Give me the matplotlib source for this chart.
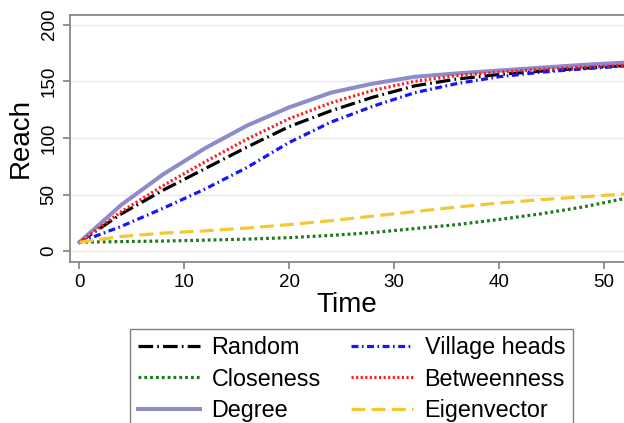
import matplotlib
matplotlib.use("Agg")
import matplotlib.pyplot as plt

plt.rcParams['font.family'] = ['Liberation Sans', 'DejaVu Sans']
plt.rcParams['lines.scale_dashes'] = False

# ===== Data: reach over time for each seeding strategy =====
time = [0, 4, 8, 12, 16, 20, 24, 28, 32, 36, 40, 44, 48, 52]
random_reach = [8, 33, 54, 73, 92, 110, 124, 136, 146, 152, 156, 159, 161.5, 164]
village_heads = [8, 22, 38, 55, 74, 96, 114, 128, 140, 148, 154, 158, 161, 163.5]
closeness = [8, 8.5, 9, 9.8, 10.7, 12, 14, 16.5, 20, 23.5, 28, 33, 39, 46.5]
betweenness = [8, 35, 58, 79, 99, 117, 131, 142, 150, 155, 158, 160.5, 162.5, 164]
degree = [8, 41, 68, 91, 111, 127, 140, 148, 154, 157, 159.5, 162, 164.5, 166.5]
eigenvector = [8, 13, 16, 18, 20.5, 23.5, 27, 31, 35, 39, 42.5, 45.5, 48, 50.5]

fig = plt.figure(figsize=(6.24, 4.23), dpi=100)
ax = fig.add_axes([69.5 / 624, 1 - 262 / 423, 1 - 69.5 / 624, (262 - 14.7) / 423])

lw = 2.3
ax.plot(time, random_reach, color='black', lw=lw, dashes=(10.5, 3, 1.2, 3), label='Random')
ax.plot(time, closeness, color='#1a7a1a', lw=lw, dashes=(2, 2.2), label='Closeness')
ax.plot(time, degree, color='#8c8cca', lw=2.9, label='Degree')
ax.plot(time, village_heads, color='#1515ff', lw=lw, dashes=(5, 2.5, 1.2, 2.5), label='Village heads')
ax.plot(time, betweenness, color='#ff1a1a', lw=lw, dashes=(1.5, 1.8), label='Betweenness')
ax.plot(time, eigenvector, color='#f5c832', lw=lw, dashes=(10, 4.5), label='Eigenvector')

ax.set_xlim(-0.95, 51.95)
ax.set_ylim(-9.5, 208.8)
ax.set_xticks([0, 10, 20, 30, 40, 50])
ax.set_yticks([0, 50, 100, 150, 200])
ax.grid(axis='y', color='#e8e8e8', lw=0.9)
ax.set_axisbelow(True)

for side in ['left', 'bottom', 'top']:
    ax.spines[side].set_color('#808080')
    ax.spines[side].set_linewidth(1.2)
ax.spines['right'].set_visible(False)
ax.tick_params(colors='#808080', labelcolor='black', length=5, width=1.2, labelsize=13.5)
for lab in ax.get_yticklabels():
    lab.set_rotation(90)
    lab.set_va('center')

ax.set_xlabel('Time', fontsize=20, labelpad=1)
ax.set_ylabel('Reach', fontsize=20, labelpad=5)

leg = fig.legend(loc='upper center', bbox_to_anchor=(351.5 / 624, 1 - 329 / 423), ncol=2,
                 fontsize=16.8, handlelength=2.65, columnspacing=1.3, labelspacing=0.35,
                 handletextpad=0.5, borderpad=0.32, borderaxespad=0,
                 fancybox=False, framealpha=1)
leg.get_frame().set_edgecolor('#808080')
leg.get_frame().set_linewidth(1.0)

fig.savefig('out.png', dpi=100)
